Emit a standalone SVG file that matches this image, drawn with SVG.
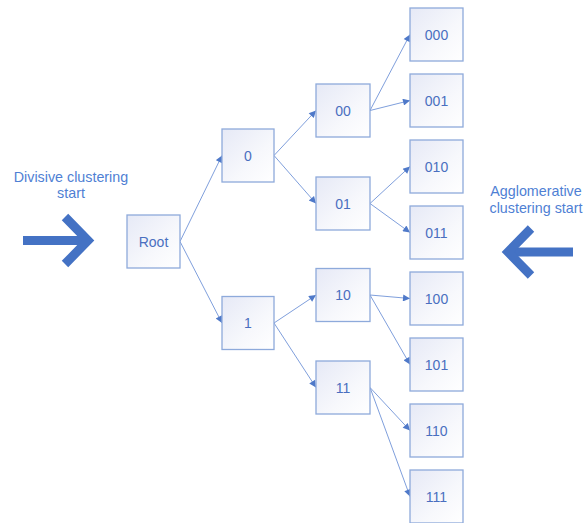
<svg xmlns="http://www.w3.org/2000/svg" width="586" height="523" viewBox="0 0 586 523">
  <defs>
    <linearGradient id="boxFill" x1="0" y1="0" x2="1" y2="1">
      <stop offset="0" stop-color="#e6e9f6"/>
      <stop offset="0.6" stop-color="#f7f8fc"/>
      <stop offset="1" stop-color="#ffffff"/>
    </linearGradient>
    <marker id="tip" viewBox="0 0 10 10" refX="10" refY="5" markerWidth="9" markerHeight="7" markerUnits="userSpaceOnUse" orient="auto">
      <path d="M0,0 L10,5 L0,10 z" fill="#4f79c9"/>
    </marker>
  </defs>
  <style>
    .box { fill: url(#boxFill); stroke: #8eaadb; stroke-width: 1.3; }
    .lbl { font-family: "Liberation Sans", Arial, sans-serif; font-size: 14px; fill: #4a6fc0; text-anchor: middle; }
    .cap { font-family: "Liberation Sans", Arial, sans-serif; font-size: 14.3px; fill: #4f7fd4; text-anchor: middle; }
    .edge { stroke: #7f9fdc; stroke-width: 1; fill: none; marker-end: url(#tip); }
    .big { stroke: #4472c4; stroke-width: 9; fill: none; stroke-linejoin: miter; stroke-linecap: butt; }
  </style>
  <rect width="586" height="523" fill="#ffffff"/>

  <!-- direction indicators -->
  <g id="divisive">
    <text class="cap" x="71" y="181.5">Divisive clustering</text>
    <text class="cap" x="71" y="198">start</text>
    <line class="big" x1="23" y1="240.5" x2="86" y2="240.5"/>
    <polyline class="big" points="65,217 88,240.5 65,264"/>
  </g>
  <g id="agglomerative">
    <text class="cap" x="536" y="195.5">Agglomerative</text>
    <text class="cap" x="536" y="213">clustering start</text>
    <line class="big" x1="510" y1="252" x2="573" y2="252"/>
    <polyline class="big" points="531,228.5 508,252 531,275.5"/>
  </g>

  <!-- connectors -->
  <g id="connectors">
    <line class="edge" x1="180" y1="241.5" x2="222" y2="155.5"/>
    <line class="edge" x1="180" y1="241.5" x2="222" y2="323"/>
    <line class="edge" x1="274" y1="155.5" x2="316" y2="110.5"/>
    <line class="edge" x1="274" y1="155.5" x2="316" y2="203.5"/>
    <line class="edge" x1="274" y1="323" x2="316" y2="295"/>
    <line class="edge" x1="274" y1="323" x2="316" y2="387.5"/>
    <line class="edge" x1="370" y1="110.5" x2="410" y2="34.5"/>
    <line class="edge" x1="370" y1="110.5" x2="410" y2="100.5"/>
    <line class="edge" x1="370" y1="203.5" x2="410" y2="166.5"/>
    <line class="edge" x1="370" y1="203.5" x2="410" y2="232.5"/>
    <line class="edge" x1="370" y1="295" x2="410" y2="298.5"/>
    <line class="edge" x1="370" y1="295" x2="410" y2="364.5"/>
    <line class="edge" x1="370" y1="387.5" x2="410" y2="430.5"/>
    <line class="edge" x1="370" y1="387.5" x2="410" y2="496.5"/>
  </g>

  <!-- nodes -->
  <g id="n-root"><rect class="box" x="127" y="215" width="53" height="53"/><text class="lbl" x="153.5" y="246.5">Root</text></g>
  <g id="n-0"><rect class="box" x="222" y="129" width="52" height="53"/><text class="lbl" x="248" y="160.5">0</text></g>
  <g id="n-1"><rect class="box" x="222" y="296.5" width="52" height="53"/><text class="lbl" x="248" y="328">1</text></g>
  <g id="n-00"><rect class="box" x="316" y="84" width="54" height="53"/><text class="lbl" x="343" y="115.5">00</text></g>
  <g id="n-01"><rect class="box" x="316" y="177" width="54" height="53"/><text class="lbl" x="343" y="208.5">01</text></g>
  <g id="n-10"><rect class="box" x="316" y="268.5" width="54" height="53"/><text class="lbl" x="343" y="300">10</text></g>
  <g id="n-11"><rect class="box" x="316" y="361" width="54" height="53"/><text class="lbl" x="343" y="392.5">11</text></g>
  <g id="n-000"><rect class="box" x="410" y="8" width="53" height="53"/><text class="lbl" x="436.5" y="39.5">000</text></g>
  <g id="n-001"><rect class="box" x="410" y="74" width="53" height="53"/><text class="lbl" x="436.5" y="105.5">001</text></g>
  <g id="n-010"><rect class="box" x="410" y="140" width="53" height="53"/><text class="lbl" x="436.5" y="171.5">010</text></g>
  <g id="n-011"><rect class="box" x="410" y="206" width="53" height="53"/><text class="lbl" x="436.5" y="237.5">011</text></g>
  <g id="n-100"><rect class="box" x="410" y="272" width="53" height="53"/><text class="lbl" x="436.5" y="303.5">100</text></g>
  <g id="n-101"><rect class="box" x="410" y="338" width="53" height="53"/><text class="lbl" x="436.5" y="369.5">101</text></g>
  <g id="n-110"><rect class="box" x="410" y="404" width="53" height="53"/><text class="lbl" x="436.5" y="435.5">110</text></g>
  <g id="n-111"><rect class="box" x="410" y="470" width="53" height="53"/><text class="lbl" x="436.5" y="501.5">111</text></g>
</svg>
